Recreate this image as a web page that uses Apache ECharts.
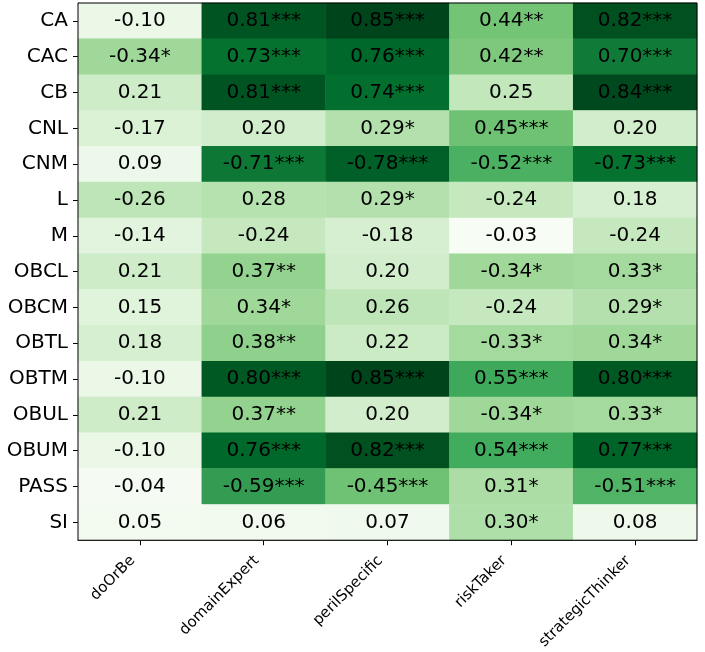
<!DOCTYPE html>
<html>
<head>
<meta charset="utf-8">
<script src="https://cdn.jsdelivr.net/npm/echarts@6/dist/echarts.min.js"></script>
<style>html,body{margin:0;padding:0;background:#fff}#c{width:705px;height:652px}</style>
</head>
<body>
<div id="c"></div>
<script>
var rows = ["CA","CAC","CB","CNL","CNM","L","M","OBCL","OBCM","OBTL","OBTM","OBUL","OBUM","PASS","SI"];
var cols = ["doOrBe","domainExpert","perilSpecific","riskTaker","strategicThinker"];
var values = [
  [-0.10, 0.81, 0.85, 0.44, 0.82],
  [-0.34, 0.73, 0.76, 0.42, 0.70],
  [0.21, 0.81, 0.74, 0.25, 0.84],
  [-0.17, 0.20, 0.29, 0.45, 0.20],
  [0.09, -0.71, -0.78, -0.52, -0.73],
  [-0.26, 0.28, 0.29, -0.24, 0.18],
  [-0.14, -0.24, -0.18, -0.03, -0.24],
  [0.21, 0.37, 0.20, -0.34, 0.33],
  [0.15, 0.34, 0.26, -0.24, 0.29],
  [0.18, 0.38, 0.22, -0.33, 0.34],
  [-0.10, 0.80, 0.85, 0.55, 0.80],
  [0.21, 0.37, 0.20, -0.34, 0.33],
  [-0.10, 0.76, 0.82, 0.54, 0.77],
  [-0.04, -0.59, -0.45, 0.31, -0.51],
  [0.05, 0.06, 0.07, 0.30, 0.08]
];
var stars = [
  ["", "***", "***", "**", "***"],
  ["*", "***", "***", "**", "***"],
  ["", "***", "***", "", "***"],
  ["", "", "*", "***", ""],
  ["", "***", "***", "***", "***"],
  ["", "", "*", "", ""],
  ["", "", "", "", ""],
  ["", "**", "", "*", "*"],
  ["", "*", "", "", "*"],
  ["", "**", "", "*", "*"],
  ["", "***", "***", "***", "***"],
  ["", "**", "", "*", "*"],
  ["", "***", "***", "***", "***"],
  ["", "***", "***", "*", "***"],
  ["", "", "", "*", ""]
];
var greens = ["#f7fcf5","#e5f5e0","#c7e9c0","#a1d99b","#74c476","#41ab5d","#238b45","#006d2c","#00441b"];

var data = [];
for (var r = 0; r < rows.length; r++) {
  for (var c = 0; c < cols.length; c++) {
    var v = values[r][c];
    data.push([c, r, Math.abs(v), v.toFixed(2) + stars[r][c]]);
  }
}

var chart = echarts.init(document.getElementById('c'));
var font = 'DejaVu Sans';
chart.setOption({
  animation: false,
  grid: { left: 78, top: 3, width: 619, height: 539, show: true, borderColor: '#000', borderWidth: 1, backgroundColor: 'transparent', z: 10 },
  xAxis: {
    type: 'category', data: cols, position: 'bottom',
    axisLine: { show: true, lineStyle: { color: '#000', width: 1 } },
    axisTick: { show: true, alignWithLabel: true, length: 5, lineStyle: { color: '#000' } },
    axisLabel: { rotate: 45, fontSize: 15, fontFamily: font, color: '#000', margin: 11, interval: 0, padding: [0, 10, 0, 0] },
    splitLine: { show: false }
  },
  yAxis: {
    type: 'category', data: rows, inverse: true,
    axisLine: { show: true, lineStyle: { color: '#000', width: 1 } },
    axisTick: { show: true, alignWithLabel: true, length: 5, lineStyle: { color: '#000' } },
    axisLabel: { fontSize: 20, fontFamily: font, color: '#000', margin: 10, interval: 0 },
    splitLine: { show: false }
  },
  visualMap: {
    show: false, type: 'continuous', dimension: 2, min: 0.03, max: 0.85,
    inRange: { color: greens }
  },
  series: [{
    type: 'heatmap',
    data: data,
    itemStyle: { borderWidth: 0 },
    label: {
      show: true, fontSize: 20, fontFamily: font, color: '#000',
      formatter: function (p) { return p.data[3]; }
    },
    emphasis: { disabled: true }
  }]
});
</script>
</body>
</html>
